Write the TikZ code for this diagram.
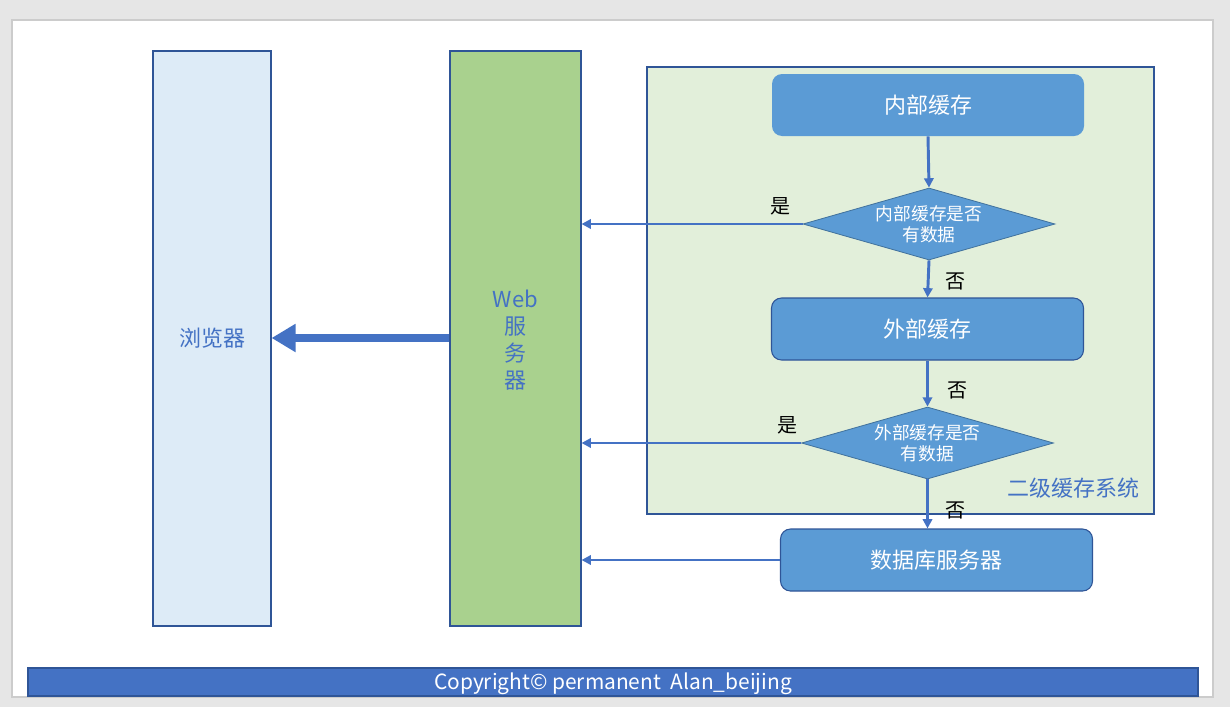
\documentclass[tikz,border=0pt]{standalone}
\usepackage{fontspec}
\setmainfont{Noto Sans CJK SC}
\usetikzlibrary{arrows.meta,shapes.geometric}
\definecolor{pagegray}{HTML}{E6E6E6}
\definecolor{pageline}{HTML}{CCCCCC}
\definecolor{darkline}{HTML}{2F5597}
\definecolor{txtblue}{HTML}{4472C4}
\definecolor{nodeblue}{HTML}{5B9BD5}
\definecolor{dialine}{HTML}{41719C}
\definecolor{browserfill}{HTML}{DDEBF7}
\definecolor{webfill}{HTML}{A9D18E}
\definecolor{sysfill}{HTML}{E2EFDA}
\definecolor{footfill}{HTML}{4472C4}
\begin{document}
\begin{tikzpicture}[x=0.75pt,y=-0.75pt,
  colbox/.style={draw=darkline,line width=0.8pt,inner sep=0pt},
  procbox/.style={rounded corners=7.5pt,fill=nodeblue,text=white,inner sep=0pt,
    minimum width=234pt,minimum height=46.5pt,font=\fontsize{16.5}{20}\selectfont},
  decbox/.style={diamond,fill=nodeblue,draw=dialine,line width=0.6pt,text=white,inner sep=0pt,
    shape aspect=3.5,minimum width=189pt,minimum height=54pt,align=center,
    font=\fontsize{13.3}{16}\selectfont},
  flow/.style={draw=txtblue,line width=2.2pt,-{Triangle[length=7pt,width=7pt]}},
  yesno/.style={font=\fontsize{15}{18}\selectfont,text=black,inner sep=0pt}]
\useasboundingbox (0,0) rectangle (1230,707);
\fill[pagegray] (0,0) rectangle (1230,707);
\filldraw[fill=white,draw=pageline,line width=0.9pt] (12,20) rectangle (1213,697);
% columns
\node[colbox,fill=browserfill,minimum width=88.5pt,minimum height=431.25pt,
  text=txtblue,font=\fontsize{16.5}{20}\selectfont] (browser) at (212,338.5) {浏览器};
\node[colbox,fill=webfill,minimum width=98.25pt,minimum height=431.25pt] (web) at (515.5,338.5) {};
\node[text=txtblue,align=center,inner sep=0pt,font=\fontsize{16.5}{20.25}\selectfont] (webtext) at (515.5,340.5) {Web\\服\\务\\器};
\node[colbox,fill=sysfill,minimum width=380.25pt,minimum height=335.25pt] (sys) at (900.5,290.5) {};
\node[text=txtblue,font=\fontsize{16.5}{20}\selectfont,inner sep=0pt] (syslabel) at (1073,488) {二级缓存系统};
% flow
\node[procbox] (inner) at (928,105) {内部缓存};
\node[decbox] (d1) at (929,224) {内部缓存是否\\有数据};
\node[procbox,draw=darkline,line width=0.8pt] (ext) at (927.5,329) {外部缓存};
\node[decbox] (d2) at (927.5,443) {外部缓存是否\\有数据};
\node[procbox,draw=darkline,line width=0.8pt] (db) at (936.5,560) {数据库服务器};
\draw[flow] (inner.south) -- (d1.north);
\draw[flow] (d1.south) -- (ext.north);
\draw[flow] (ext.south) -- (d2.north);
\draw[flow] (d2.south) -- (d2.south |- db.north);
\draw[flow] (d1.west) -- (d1.west -| web.east);
\draw[flow] (d2.west) -- (d2.west -| web.east);
\draw[flow] (db.west) -- (db.west -| web.east);
\draw[draw=txtblue,line width=6pt,-{Triangle[length=18pt,width=20pt]}] (web.west |- 0,338) coordinate (wl) -- (wl -| browser.east);
\node[yesno] (y1) at (780,206) {是};
\node[yesno] (n1) at (955,281) {否};
\node[yesno] (n2) at (957,390) {否};
\node[yesno] (y2) at (787,425) {是};
\node[yesno] (n3) at (955,510) {否};
% footer
\node[draw=darkline,line width=0.8pt,fill=footfill,minimum width=877.5pt,minimum height=21pt,inner sep=0pt] (foot) at (613,682) {};
\node[text=white,inner sep=0pt,font=\fontsize{15.7}{18}\selectfont] (foottext) at (613,684) {Copyright© permanent\ \ Alan\_beijing};
\end{tikzpicture}
\end{document}
